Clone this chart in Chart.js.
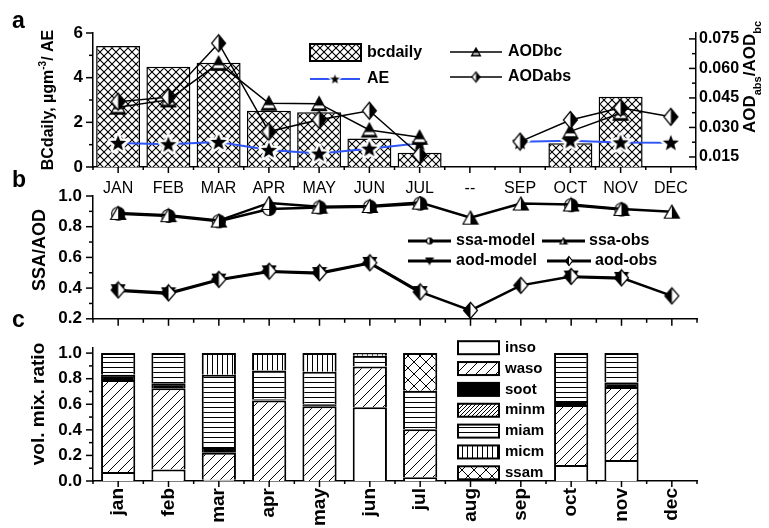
<!DOCTYPE html>
<html>
<head>
<meta charset="utf-8">
<script src="https://cdn.jsdelivr.net/npm/chart.js@4.4.1/dist/chart.umd.min.js"></script>
<style>
  html, body { margin: 0; padding: 0; background: #fff; }
  body { width: 769px; height: 528px; position: relative; overflow: hidden; }
  canvas { position: absolute; left: 0; }
</style>
</head>
<body>
<canvas id="chartA" width="769" height="200" style="top:0px"></canvas>
<canvas id="chartB" width="769" height="170" style="top:170px"></canvas>
<canvas id="chartC" width="769" height="208" style="top:320px"></canvas>
<script>
// ---------- data ----------
const monthsUpper = ['JAN', 'FEB', 'MAR', 'APR', 'MAY', 'JUN', 'JUL', '--', 'SEP', 'OCT', 'NOV', 'DEC'];
const monthsLower = ['jan', 'feb', 'mar', 'apr', 'may', 'jun', 'jul', 'aug', 'sep', 'oct', 'nov', 'dec'];

// (a) black carbon, Angstrom exponent, absorbing optical depths
const bcDaily = [5.42, 4.49, 4.67, 2.52, 2.45, 1.28, 0.64, null, null, 1.06, 3.15, null];
const aeValues = [1.08, 1.02, 1.12, 0.76, 0.60, 0.82, 1.06, null, 1.13, 1.18, 1.10, 1.09];
const aodBc = [0.0403, 0.0440, 0.0626, 0.0423, 0.0421, 0.0287, 0.0250, null, null, 0.0280, 0.0372, null];
const aodAbs = [0.0431, 0.0454, 0.0728, 0.0279, 0.0339, 0.0385, 0.0160, null, 0.0228, 0.0338, 0.0400, 0.0354];

// (b) single scattering albedo and optical depth
const ssaModel = [0.885, 0.870, 0.835, 0.915, 0.925, 0.930, 0.950, null, null, 0.940, 0.912, null];
const ssaObs = [0.890, 0.875, 0.840, 0.955, 0.930, 0.935, 0.957, 0.859, 0.951, 0.945, 0.916, 0.898];
const aodModel = [0.383, 0.363, 0.452, 0.506, 0.495, 0.561, 0.371, null, null, 0.472, 0.463, null];
const aodObs = [0.388, 0.369, 0.457, 0.510, 0.500, 0.565, 0.375, 0.255, 0.418, 0.476, 0.467, 0.349];

// (c) volume mixing ratio of aerosol components
const inso = [0.070, 0.090, 0.010, 0.000, 0.000, 0.577, 0.030, null, null, 0.125, 0.165, null];
const waso = [0.720, 0.635, 0.210, 0.630, 0.585, 0.318, 0.375, null, null, 0.470, 0.570, null];
const soot = [0.040, 0.040, 0.045, 0.010, 0.015, 0.000, 0.000, null, null, 0.030, 0.035, null];
const minm = [0.000, 0.000, 0.000, 0.000, 0.000, 0.000, 0.000, null, null, 0.000, 0.000, null];
const miam = [0.170, 0.235, 0.565, 0.225, 0.255, 0.085, 0.300, null, null, 0.375, 0.230, null];
const micm = [0.000, 0.000, 0.170, 0.135, 0.145, 0.020, 0.000, null, null, 0.000, 0.000, null];
const ssam = [0.000, 0.000, 0.000, 0.000, 0.000, 0.000, 0.295, null, null, 0.000, 0.000, null];

// tick values
const bcTicks = [0, 2, 4, 6];
const bcMinor = [1, 3, 5];
const ratioTicks = [0.015, 0.030, 0.045, 0.060, 0.075];
const ratioMinor = [0.0225, 0.0375, 0.0525, 0.0675];
const ssaTicks = [0.2, 0.4, 0.6, 0.8, 1.0];
const ssaMinor = [0.3, 0.5, 0.7, 0.9];
const mixTicks = [0.0, 0.2, 0.4, 0.6, 0.8, 1.0];
const mixMinor = [0.1, 0.3, 0.5, 0.7, 0.9];

// ---------- drawing helpers ----------
const FONT = '"Liberation Sans", Arial, Helvetica, sans-serif';
const monthIdx = monthsUpper.map((_, i) => i);
const monthMid = monthsUpper.map((_, i) => i + 0.5).concat([-0.5]);

function mk(w, h, fn) {
  const c = document.createElement('canvas');
  c.width = w; c.height = h;
  fn(c.getContext('2d'), w, h);
  return c;
}

function pattern(size, fn, lw) {
  const c = mk(size, size, (g) => {
    g.fillStyle = '#fff'; g.fillRect(0, 0, size, size);
    g.strokeStyle = '#000'; g.lineWidth = lw || 1;
    fn(g, size);
  });
  return c.getContext('2d').createPattern(c, 'repeat');
}
const diagUp = (g, s) => { g.beginPath(); g.moveTo(0, s); g.lineTo(s, 0); g.moveTo(-2, 2); g.lineTo(2, -2); g.moveTo(s - 2, s + 2); g.lineTo(s + 2, s - 2); g.stroke(); };
const diagDown = (g, s) => { g.beginPath(); g.moveTo(0, 0); g.lineTo(s, s); g.moveTo(s - 2, -2); g.lineTo(s + 2, 2); g.moveTo(-2, s - 2); g.lineTo(2, s + 2); g.stroke(); };
const crossHatch = (g, s) => { diagUp(g, s); diagDown(g, s); };
const horizLines = (g, s) => { g.beginPath(); g.moveTo(0, Math.floor(s / 2) + 0.5); g.lineTo(s, Math.floor(s / 2) + 0.5); g.stroke(); };
const vertLines = (g, s) => { g.beginPath(); g.moveTo(Math.floor(s / 2) + 0.5, 0); g.lineTo(Math.floor(s / 2) + 0.5, s); g.stroke(); };

const patBc = pattern(8, crossHatch, 1.1);
const patWaso = pattern(10, diagUp, 1);
const patMinm = pattern(4, diagUp, 1);
const patMiam = pattern(5, horizLines, 1);
const patMicm = pattern(5, vertLines, 1);
const patSsam = pattern(12, crossHatch, 1);

// marker images
function starImg(r, halo) {
  const s = Math.ceil(2 * r + 2 * halo + 2);
  return mk(s, s, (g) => {
    const cx = s / 2, cy = s / 2 + r * 0.08;
    g.beginPath();
    for (let i = 0; i < 10; i++) {
      const rr = i % 2 ? r * 0.42 : r;
      const a = -Math.PI / 2 + i * Math.PI / 5;
      g.lineTo(cx + rr * Math.cos(a), cy + rr * Math.sin(a));
    }
    g.closePath();
    g.lineJoin = 'round';
    if (halo) { g.strokeStyle = '#fff'; g.lineWidth = halo * 2; g.stroke(); }
    g.fillStyle = '#000'; g.fill();
  });
}
function triImg(w, h, mode) {
  return mk(w + 3, h + 3, (g) => {
    const o = 1.5;
    const path = () => {
      g.beginPath();
      if (mode === 'down') { g.moveTo(o, o); g.lineTo(w + o, o); g.lineTo(w / 2 + o, h + o); }
      else { g.moveTo(w / 2 + o, o); g.lineTo(w + o, h + o); g.lineTo(o, h + o); }
      g.closePath();
    };
    path(); g.fillStyle = mode === 'halfR' ? '#fff' : '#000'; g.fill();
    g.save(); path(); g.clip();
    if (mode === 'halfR') { g.fillStyle = '#000'; g.fillRect(w / 2 + o, 0, w, h + 3); }
    if (mode === 'band') { g.fillStyle = '#fff'; g.fillRect(0, h * 0.64 + o, w + 3, h * 0.2); }
    g.restore();
    path(); g.strokeStyle = '#000'; g.lineWidth = 1.2; g.stroke();
  });
}
function diaImg(w, h, blackSide) {
  return mk(w + 3, h + 3, (g) => {
    const o = 1.5;
    const path = () => { g.beginPath(); g.moveTo(w / 2 + o, o); g.lineTo(w + o, h / 2 + o); g.lineTo(w / 2 + o, h + o); g.lineTo(o, h / 2 + o); g.closePath(); };
    path(); g.fillStyle = '#fff'; g.fill();
    g.save(); path(); g.clip(); g.fillStyle = '#000';
    if (blackSide === 'right') g.fillRect(w / 2 + o, 0, w, h + 3); else g.fillRect(0, 0, w / 2 + o, h + 3);
    g.restore();
    path(); g.strokeStyle = '#000'; g.lineWidth = 1.2; g.stroke();
  });
}
function circImg(d) {
  return mk(d + 3, d + 3, (g) => {
    const c = d / 2 + 1.5, r = d / 2;
    g.beginPath(); g.arc(c, c, r, 0, Math.PI * 2); g.fillStyle = '#fff'; g.fill();
    g.beginPath(); g.moveTo(c, c - r); g.arc(c, c, r, -Math.PI / 2, Math.PI / 2); g.closePath(); g.fillStyle = '#000'; g.fill();
    g.beginPath(); g.arc(c, c, r, 0, Math.PI * 2); g.strokeStyle = '#000'; g.lineWidth = 1.2; g.stroke();
  });
}

const mStar = starImg(8.5, 2.5);
const mStarSmall = starImg(5, 1.5);
const mTriBand = triImg(15, 14, 'band');
const mTriBandSmall = triImg(9, 8, 'band');
const mDiaAbs = diaImg(14, 17, 'right');
const mDiaAbsSmall = diaImg(8, 10, 'right');
const mCirc = circImg(13);
const mCircSmall = circImg(6);
const mTriHalf = triImg(15, 13, 'halfR');
const mTriHalfSmall = triImg(7, 6, 'halfR');
const mTriDown = triImg(13, 12, 'down');
const mTriDownSmall = triImg(7, 6, 'down');
const mDiaObs = diaImg(14, 16, 'left');
const mDiaObsSmall = diaImg(7, 9, 'left');

// text with sub/superscripts, centred on (x, y)
function richText(ctx, x, y, angle, parts, size) {
  ctx.save();
  ctx.translate(x, y); ctx.rotate(angle);
  const fs = (k) => (k ? Math.round(size * 0.62) : size);
  let total = 0;
  parts.forEach(([t, k]) => { ctx.font = `bold ${fs(k)}px ${FONT}`; total += ctx.measureText(t).width; });
  let cx = -total / 2;
  ctx.textAlign = 'left'; ctx.textBaseline = 'alphabetic'; ctx.fillStyle = '#000';
  const base = size * 0.36;
  parts.forEach(([t, k]) => {
    ctx.font = `bold ${fs(k)}px ${FONT}`;
    const dy = k === 'sub' ? size * 0.32 : k === 'sup' ? -size * 0.42 : 0;
    ctx.fillText(t, cx, base + dy);
    cx += ctx.measureText(t).width;
  });
  ctx.restore();
}
function label(ctx, t, x, y, size, weight, align) {
  ctx.save();
  ctx.font = `${weight || 'bold'} ${size}px ${FONT}`;
  ctx.fillStyle = '#000'; ctx.textAlign = align || 'left'; ctx.textBaseline = 'middle';
  ctx.fillText(t, x, y);
  ctx.restore();
}
function legendLine(ctx, x1, x2, y, color, lw, img) {
  ctx.save();
  ctx.strokeStyle = color; ctx.lineWidth = lw;
  ctx.beginPath(); ctx.moveTo(x1, y); ctx.lineTo(x2, y); ctx.stroke();
  if (img) ctx.drawImage(img, (x1 + x2) / 2 - img.width / 2, y - img.height / 2);
  ctx.restore();
}
function legendBox(ctx, x, y, w, h, fill) {
  ctx.save();
  ctx.fillStyle = fill; ctx.fillRect(x, y, w, h);
  ctx.strokeStyle = '#000'; ctx.lineWidth = 2; ctx.strokeRect(x, y, w, h);
  ctx.restore();
}

// major/minor tick marks drawn through each scale's pixel mapping
const tickMarks = {
  id: 'tickMarks',
  afterDraw(chart, args, opts) {
    const ctx = chart.ctx;
    ctx.save();
    ctx.strokeStyle = '#000'; ctx.lineWidth = 1.5;
    (opts.axes || []).forEach((a) => {
      const s = chart.scales[a.id];
      const draw = (vals, len) => vals.forEach((v) => {
        const p = s.getPixelForValue(v);
        ctx.beginPath();
        if (s.isHorizontal()) {
          ctx.moveTo(p, s.top); ctx.lineTo(p, s.top + len);
        } else {
          const x0 = s.position === 'left' ? s.right : s.left;
          const sign = ((s.position === 'left') === (a.dir === 'out')) ? -1 : 1;
          ctx.moveTo(x0, p); ctx.lineTo(x0 + sign * len, p);
        }
        ctx.stroke();
      });
      draw(a.major, a.majorLen);
      draw(a.minor, a.minorLen);
    });
    ctx.restore();
  }
};

const axisBorder = { display: true, color: '#000', width: 1.5 };
const noGrid = { display: false, drawTicks: false };
const tickFont = { family: FONT, size: 16, weight: 'bold' };

Chart.defaults.font.family = FONT;
Chart.defaults.color = '#000';

// ---------- (a) ----------
new Chart(document.getElementById('chartA'), {
  type: 'bar',
  data: {
    labels: monthsUpper,
    datasets: [
      { type: 'bar', label: 'bcdaily', data: bcDaily, yAxisID: 'y', backgroundColor: patBc, borderColor: '#000', borderWidth: 1.5, barPercentage: 0.875, categoryPercentage: 1, order: 10 },
      { type: 'line', label: 'AODbc', data: aodBc, yAxisID: 'y1', borderColor: '#000', borderWidth: 1.5, pointStyle: mTriBand, pointRadius: 7, tension: 0, order: 4 },
      { type: 'line', label: 'AODabs', data: aodAbs, yAxisID: 'y1', borderColor: '#000', borderWidth: 1.5, pointStyle: mDiaAbs, pointRadius: 7, tension: 0, order: 3 },
      { type: 'line', label: 'AE', data: aeValues, yAxisID: 'y', borderColor: '#2f55f5', borderWidth: 2, pointStyle: mStar, pointRadius: 8, tension: 0, order: 5 }
    ]
  },
  options: {
    responsive: false, animation: false, events: [],
    layout: { padding: { top: 33, left: 0, right: 0, bottom: 0 } },
    plugins: {
      legend: { display: false }, tooltip: { enabled: false },
      tickMarks: { axes: [
        { id: 'x', major: monthIdx, minor: monthMid, majorLen: 6, minorLen: 3 },
        { id: 'y', major: bcTicks, minor: bcMinor, dir: 'out', majorLen: 7, minorLen: 4 },
        { id: 'y1', major: ratioTicks, minor: ratioMinor, dir: 'in', majorLen: 7, minorLen: 4 }
      ] }
    },
    scales: {
      x: {
        type: 'category', offset: true, grid: noGrid, border: axisBorder,
        ticks: { font: { family: FONT, size: 16, weight: 'normal' }, padding: 12, maxRotation: 0, minRotation: 0, autoSkip: false },
        afterFit: (s) => { s.height = 33; }
      },
      y: {
        position: 'left', min: 0, max: 6, grid: noGrid, border: axisBorder,
        ticks: { font: { family: FONT, size: 17, weight: 'bold' }, padding: 10, autoSkip: false, callback: (v) => String(v) },
        afterBuildTicks: (s) => { s.ticks = bcTicks.map((v) => ({ value: v })); },
        afterFit: (s) => { s.width = 93; }
      },
      y1: {
        position: 'right', min: 0.0099, max: 0.078, grid: noGrid, border: axisBorder,
        ticks: { font: tickFont, padding: 3, autoSkip: false, callback: (v) => Number(v).toFixed(3) },
        afterBuildTicks: (s) => { s.ticks = ratioTicks.map((v) => ({ value: v })); },
        afterFit: (s) => { s.width = 73; }
      }
    }
  },
  plugins: [tickMarks, {
    id: 'decorA',
    afterDraw(chart) {
      const ctx = chart.ctx;
      label(ctx, 'a', 12, 22, 23, 'bold');
      richText(ctx, 47, 100, -Math.PI / 2, [['BCdaily, \u00b5gm', ''], ['-3', 'sup'], ['/ AE', '']], 16);
      richText(ctx, 749, 77, -Math.PI / 2, [['AOD', ''], ['abs', 'sub'], ['/AOD', ''], ['bc', 'sub']], 17);
      legendBox(ctx, 310, 44, 51, 17, patBc);
      label(ctx, 'bcdaily', 367, 53, 16);
      legendLine(ctx, 310, 360, 79, '#2f55f5', 2, mStarSmall);
      label(ctx, 'AE', 367, 79, 16);
      legendLine(ctx, 450, 502, 52, '#000', 1.5, mTriBandSmall);
      label(ctx, 'AODbc', 508, 52, 16);
      legendLine(ctx, 450, 502, 77, '#000', 1.5, mDiaAbsSmall);
      label(ctx, 'AODabs', 508, 77, 16);
    }
  }]
});

// ---------- (b) ----------
new Chart(document.getElementById('chartB'), {
  type: 'line',
  data: {
    labels: monthsUpper,
    datasets: [
      { label: 'ssa-model', data: ssaModel, borderColor: '#000', borderWidth: 2.5, pointStyle: mCirc, pointRadius: 6, tension: 0, order: 4 },
      { label: 'aod-model', data: aodModel, borderColor: '#000', borderWidth: 2.5, pointStyle: mTriDown, pointRadius: 6, tension: 0, order: 3 },
      { label: 'ssa-obs', data: ssaObs, borderColor: '#000', borderWidth: 2.5, pointStyle: mTriHalf, pointRadius: 6, tension: 0, order: 2 },
      { label: 'aod-obs', data: aodObs, borderColor: '#000', borderWidth: 2.5, pointStyle: mDiaObs, pointRadius: 6, tension: 0, order: 1 }
    ]
  },
  options: {
    responsive: false, animation: false, events: [],
    layout: { padding: { top: 26, left: 0, right: 72, bottom: 0 } },
    plugins: {
      legend: { display: false }, tooltip: { enabled: false },
      tickMarks: { axes: [
        { id: 'x', major: monthIdx, minor: monthMid, majorLen: 7, minorLen: 4 },
        { id: 'y', major: ssaTicks, minor: ssaMinor, dir: 'out', majorLen: 7, minorLen: 4 }
      ] }
    },
    scales: {
      x: {
        type: 'category', offset: true, grid: noGrid, border: axisBorder,
        ticks: { display: false },
        afterFit: (s) => { s.height = 8; }
      },
      y: {
        position: 'left', min: 0.2, max: 1.0, grid: noGrid, border: axisBorder,
        ticks: { font: { family: FONT, size: 17, weight: 'bold' }, padding: 11, autoSkip: false, callback: (v) => Number(v).toFixed(1) },
        afterBuildTicks: (s) => { s.ticks = ssaTicks.map((v) => ({ value: v })); },
        afterFit: (s) => { s.width = 93; }
      }
    }
  },
  plugins: [tickMarks, {
    id: 'decorB',
    afterDraw(chart) {
      const ctx = chart.ctx;
      label(ctx, 'b', 12, 11, 23, 'bold');
      label(ctx, 'c', 12, 151, 23, 'bold');
      richText(ctx, 39, 80, -Math.PI / 2, [['SSA/AOD', '']], 18);
      legendLine(ctx, 408, 451, 71, '#000', 3, mCircSmall);
      label(ctx, 'ssa-model', 456, 71, 16);
      legendLine(ctx, 542, 585, 71, '#000', 3, mTriHalfSmall);
      label(ctx, 'ssa-obs', 589, 71, 16);
      legendLine(ctx, 408, 451, 91, '#000', 3, mTriDownSmall);
      label(ctx, 'aod-model', 456, 91, 16);
      legendLine(ctx, 547, 591, 91, '#000', 3, mDiaObsSmall);
      label(ctx, 'aod-obs', 595, 91, 16);
    }
  }]
});

// ---------- (c) ----------
const stackStyle = { borderColor: '#000', borderWidth: 2, barPercentage: 0.68, categoryPercentage: 1 };
new Chart(document.getElementById('chartC'), {
  type: 'bar',
  data: {
    labels: monthsLower,
    datasets: [
      Object.assign({ label: 'inso', data: inso, backgroundColor: '#fff' }, stackStyle),
      Object.assign({ label: 'waso', data: waso, backgroundColor: patWaso }, stackStyle),
      Object.assign({ label: 'soot', data: soot, backgroundColor: '#000' }, stackStyle),
      Object.assign({ label: 'minm', data: minm, backgroundColor: patMinm }, stackStyle),
      Object.assign({ label: 'miam', data: miam, backgroundColor: patMiam }, stackStyle),
      Object.assign({ label: 'micm', data: micm, backgroundColor: patMicm }, stackStyle),
      Object.assign({ label: 'ssam', data: ssam, backgroundColor: patSsam }, stackStyle)
    ]
  },
  options: {
    responsive: false, animation: false, events: [],
    layout: { padding: { top: 28, left: 0, right: 72, bottom: 0 } },
    plugins: {
      legend: { display: false }, tooltip: { enabled: false },
      tickMarks: { axes: [
        { id: 'x', major: monthIdx, minor: monthMid, majorLen: 6, minorLen: 3 },
        { id: 'y', major: mixTicks, minor: mixMinor, dir: 'out', majorLen: 7, minorLen: 4 }
      ] }
    },
    scales: {
      x: {
        type: 'category', stacked: true, offset: true, grid: noGrid, border: axisBorder,
        ticks: { font: { family: FONT, size: 19, weight: 'bold' }, padding: 7, minRotation: 90, maxRotation: 90, autoSkip: false },
        afterFit: (s) => { s.height = 47; }
      },
      y: {
        position: 'left', stacked: true, min: 0, max: 1.04, grid: noGrid, border: axisBorder,
        ticks: { font: { family: FONT, size: 17, weight: 'bold' }, padding: 11, autoSkip: false, callback: (v) => Number(v).toFixed(1) },
        afterBuildTicks: (s) => { s.ticks = mixTicks.map((v) => ({ value: v })); },
        afterFit: (s) => { s.width = 93; }
      }
    }
  },
  plugins: [tickMarks, {
    id: 'decorC',
    afterDraw(chart) {
      const ctx = chart.ctx;
      richText(ctx, 37, 84, -Math.PI / 2, [['vol. mix. ratio', '']], 19);
      chart.data.datasets.forEach((ds, i) => {
        const y = 27.7 + i * 20.85;
        legendBox(ctx, 458, y - 6.5, 41, 13, ds.backgroundColor);
        label(ctx, ds.label, 505, y, 15);
      });
    }
  }]
});
</script>
</body>
</html>
